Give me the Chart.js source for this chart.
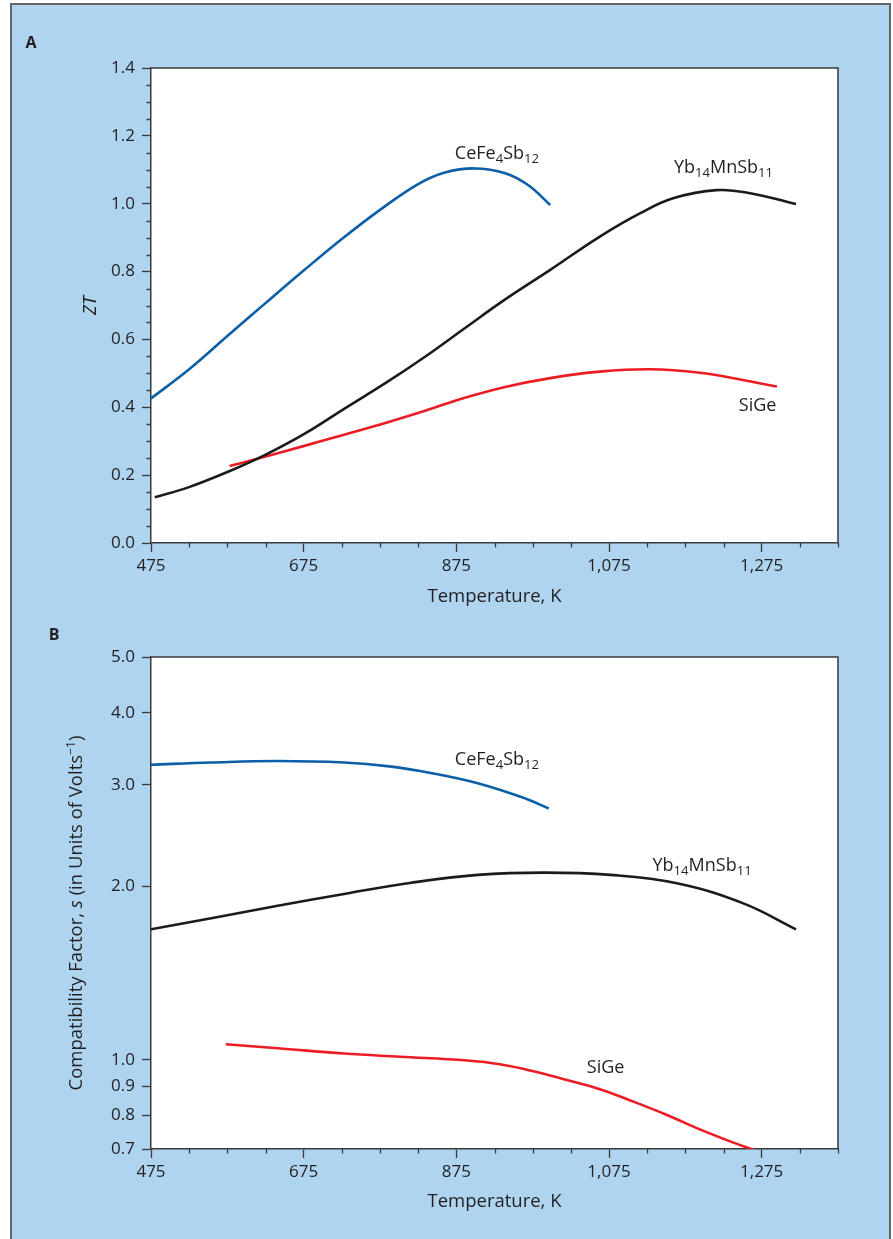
<!DOCTYPE html>
<html><head><meta charset="utf-8">
<script src="https://cdn.jsdelivr.net/npm/chart.js@4.4.0/dist/chart.umd.min.js"></script>
<style>
html,body{margin:0;padding:0;background:#fff;width:893px;height:1239px;overflow:hidden;}
#frame{position:absolute;left:10px;top:3px;width:881px;height:1250px;background:#AED4F0;border:2px solid #666;box-sizing:border-box;}
canvas{position:absolute;left:0;}
#cA{top:0}
#cB{top:620px}
</style></head><body>
<div id="frame"></div>
<canvas id="cA" width="893" height="620" style="width:893px;height:620px"></canvas>
<canvas id="cB" width="893" height="619" style="width:893px;height:619px"></canvas>
<script>
// ---------- data ----------
const tempTicks = [475, 675, 875, 1075, 1275];
const tempMinor = [525, 575, 625, 725, 775, 825, 925, 975, 1025, 1125, 1175, 1225, 1325, 1375];
const ztTicks = [0, 0.2, 0.4, 0.6, 0.8, 1.0, 1.2, 1.4];
const ztMinor = [0.05, 0.1, 0.15, 0.25, 0.3, 0.35, 0.45, 0.5, 0.55, 0.65, 0.7, 0.75, 0.85, 0.9, 0.95, 1.05, 1.1, 1.15, 1.25, 1.3, 1.35];
const sTicks = [0.7, 0.8, 0.9, 1.0, 2.0, 3.0, 4.0, 5.0];

// Panel A: ZT vs temperature
const ceTempA = [475, 525, 575, 625, 675, 725, 775, 825, 860, 899, 939, 969, 998];
const ceZT    = [0.426, 0.512, 0.61, 0.707, 0.803, 0.896, 0.982, 1.058, 1.092, 1.104, 1.09, 1.055, 0.996];
const ybTempA = [480, 524, 576, 624, 677, 729, 782, 834, 886, 939, 998, 1063, 1116, 1159, 1216, 1260, 1320];
const ybZT    = [0.135, 0.164, 0.21, 0.259, 0.323, 0.397, 0.471, 0.549, 0.633, 0.718, 0.805, 0.903, 0.972, 1.016, 1.04, 1.031, 0.999];
const siTempA = [578, 624, 677, 729, 782, 834, 886, 939, 998, 1063, 1129, 1194, 1247, 1295];
const siZT    = [0.227, 0.254, 0.287, 0.32, 0.354, 0.39, 0.428, 0.46, 0.486, 0.505, 0.512, 0.502, 0.482, 0.461];

// Panel B: compatibility factor vs temperature
const ceTempB = [475, 554, 641, 728, 787, 845, 903, 961, 996];
const ceS     = [3.25, 3.28, 3.30, 3.28, 3.23, 3.14, 3.02, 2.855, 2.73];
const ybTempB = [475, 554, 641, 728, 816, 903, 990, 1077, 1164, 1251, 1320];
const ybS     = [1.684, 1.76, 1.851, 1.94, 2.029, 2.093, 2.112, 2.093, 2.024, 1.868, 1.684];
const siTempB = [573, 641, 728, 801, 889, 932, 976, 1020, 1063, 1107, 1151, 1194, 1238, 1266];
const siS     = [1.064, 1.047, 1.025, 1.012, 0.997, 0.982, 0.955, 0.922, 0.889, 0.846, 0.802, 0.757, 0.718, 0.697];

// ---------- text ----------
const xTitle = 'Temperature, K';
const yTitleA = 'ZT';
const yTitleBParts = [{t:'Compatibility Factor, '},{t:'s',it:true},{t:' (in Units of Volts'},{t:'\u22121',sup:true},{t:')'}];
const nameCe = [{t:'CeFe'},{t:'4',sub:true},{t:'Sb'},{t:'12',sub:true}];
const nameYb = [{t:'Yb'},{t:'14',sub:true},{t:'MnSb'},{t:'11',sub:true}];
const nameSi = [{t:'SiGe'}];

// ---------- style ----------
const FONT = "'Open Sans', 'Noto Sans', sans-serif";
const TXT = '#231f20';
const AXIS = '#3a3a3a';
const BLUE = '#0b5ea8';
const BLACK = '#1b1b1b';
const RED = '#ec1c24';
const LABEL_SIZE = 18;
const TITLE_SIZE = 18.5;

function pts(xs, ys){ return xs.map((x,i)=>({x:x, y:ys[i]})); }
function fmtTemp(v){ return String(v).replace(/\B(?=(\d{3})+(?!\d))/g, ','); }

function partSize(p, size){ return p.sub ? size*0.73 : (p.sup ? size*0.66 : size); }
function drawRich(ctx, parts, x, y, size){
  let cx = x;
  parts.forEach(p=>{
    const s = partSize(p, size);
    const dy = p.sub ? size*0.23 : (p.sup ? -size*0.4 : 0);
    ctx.font = (p.it ? 'italic ' : '') + s + 'px ' + FONT;
    ctx.fillText(p.t, cx, y + dy);
    cx += ctx.measureText(p.t).width;
  });
  return cx - x;
}
function richWidth(ctx, parts, size){
  let w = 0;
  parts.forEach(p=>{
    ctx.font = (p.it ? 'italic ' : '') + partSize(p, size) + 'px ' + FONT;
    w += ctx.measureText(p.t).width;
  });
  return w;
}

const decorPlugin = {
  id: 'decor',
  beforeDraw(chart){
    const {ctx, chartArea:a} = chart;
    ctx.save();
    ctx.fillStyle = '#ffffff';
    ctx.fillRect(a.left, a.top, a.right - a.left, a.bottom - a.top);
    ctx.restore();
  },
  afterDraw(chart, args, o){
    const {ctx, chartArea:a} = chart;
    const xs = chart.scales.x, ys = chart.scales.y;
    ctx.save();
    ctx.strokeStyle = AXIS; ctx.lineWidth = 1.5;
    ctx.beginPath();
    ctx.moveTo(a.left, a.top); ctx.lineTo(a.right, a.top); ctx.lineTo(a.right, a.bottom);
    ctx.stroke();
    ctx.lineWidth = 1.3;
    ctx.beginPath();
    (o.xMinor||[]).forEach(v=>{ const px = Math.round(xs.getPixelForValue(v))+0.5; ctx.moveTo(px, a.bottom); ctx.lineTo(px, a.bottom+4.5); });
    (o.yMinor||[]).forEach(v=>{ const py = Math.round(ys.getPixelForValue(v))+0.5; ctx.moveTo(a.left-4.5, py); ctx.lineTo(a.left, py); });
    ctx.stroke();
    ctx.fillStyle = TXT; ctx.textBaseline = 'alphabetic'; ctx.textAlign = 'left';
    (o.labels||[]).forEach(l=>{
      drawRich(ctx, l.parts, xs.getPixelForValue(l.x), ys.getPixelForValue(l.y), LABEL_SIZE);
    });
    if (o.panel){
      ctx.font = 'bold 16px ' + FONT;
      ctx.textAlign = 'center'; ctx.textBaseline = 'middle';
      ctx.fillText(o.panel.t, o.panel.x, o.panel.y);
    }
    if (o.yRich){
      ctx.translate(o.yRich.x, (a.top + a.bottom)/2 + o.yRich.dy);
      ctx.rotate(-Math.PI/2);
      ctx.textAlign = 'left'; ctx.textBaseline = 'alphabetic';
      const w = richWidth(ctx, o.yRich.parts, TITLE_SIZE);
      drawRich(ctx, o.yRich.parts, -w/2, 0, TITLE_SIZE);
    }
    ctx.restore();
  }
};

function xScale(height, titlePad){
  return {
    type:'linear', min:475, max:1375,
    afterBuildTicks: s => { s.ticks = tempTicks.map(v=>({value:v})); },
    afterFit: s => { s.height = height; },
    ticks:{ callback: v => fmtTemp(v), font:{family:FONT, size:17}, color:TXT, padding:4, maxRotation:0, autoSkip:false },
    grid:{ drawOnChartArea:false, tickLength:9, tickColor:AXIS, tickWidth:1.3 },
    border:{ color:AXIS, width:1.5 },
    title:{ display:true, text:xTitle, font:{family:FONT, size:TITLE_SIZE}, color:TXT, padding:{top:0, bottom:titlePad} }
  };
}
const lineDefaults = { pointRadius:0, borderWidth:2.6, tension:0.4, fill:false, borderCapStyle:'butt' };

new Chart(document.getElementById('cA'), {
  type:'line',
  data:{ datasets:[
    Object.assign({label:'CeFe4Sb12', data:pts(ceTempA, ceZT), borderColor:BLUE}, lineDefaults),
    Object.assign({label:'Yb14MnSb11', data:pts(ybTempA, ybZT), borderColor:BLACK}, lineDefaults),
    Object.assign({label:'SiGe', data:pts(siTempA, siZT), borderColor:RED}, lineDefaults)
  ]},
  options:{
    responsive:false, animation:false, devicePixelRatio:1,
    layout:{ padding:{ top:68, right:55, left:0, bottom:0 } },
    plugins:{
      legend:{display:false}, tooltip:{enabled:false},
      decor:{
        xMinor: tempMinor, yMinor: ztMinor,
        labels:[ {parts:nameCe, x:873, y:1.132}, {parts:nameYb, x:1160, y:1.090}, {parts:nameSi, x:1245, y:0.389} ],
        panel:{t:'A', x:31, y:43.5}
      }
    },
    scales:{
      x: xScale(77, 12),
      y:{
        type:'linear', min:0, max:1.4,
        afterBuildTicks: s => { s.ticks = ztTicks.map(v=>({value:v})); },
        afterFit: s => { s.width = 151; },
        ticks:{ callback: v => Number(v).toFixed(1), font:{family:FONT, size:17}, color:TXT, padding:7, autoSkip:false },
        grid:{ drawOnChartArea:false, tickLength:9, tickColor:AXIS, tickWidth:1.3 },
        border:{ color:AXIS, width:1.5 },
        title:{ display:true, text:yTitleA, font:{family:FONT, size:TITLE_SIZE, style:'italic'}, color:TXT, padding:{top:80, bottom:0} }
      }
    }
  },
  plugins:[decorPlugin]
});

new Chart(document.getElementById('cB'), {
  type:'line',
  data:{ datasets:[
    Object.assign({label:'CeFe4Sb12', data:pts(ceTempB, ceS), borderColor:BLUE}, lineDefaults),
    Object.assign({label:'Yb14MnSb11', data:pts(ybTempB, ybS), borderColor:BLACK}, lineDefaults),
    Object.assign({label:'SiGe', data:pts(siTempB, siS), borderColor:RED}, lineDefaults)
  ]},
  options:{
    responsive:false, animation:false, devicePixelRatio:1,
    layout:{ padding:{ top:37, right:55, left:0, bottom:0 } },
    plugins:{
      legend:{display:false}, tooltip:{enabled:false},
      decor:{
        xMinor: tempMinor,
        labels:[ {parts:nameCe, x:873, y:3.249}, {parts:nameYb, x:1132, y:2.126}, {parts:nameSi, x:1046, y:0.950} ],
        panel:{t:'B', x:54, y:15},
        yRich:{ parts:yTitleBParts, x:82, dy:10 }
      }
    },
    scales:{
      x: xScale(90, 26),
      y:{
        type:'logarithmic', min:0.7, max:5,
        afterBuildTicks: s => { s.ticks = sTicks.map(v=>({value:v})); },
        afterFit: s => { s.width = 151; },
        ticks:{ callback: v => Number(v).toFixed(1), font:{family:FONT, size:17}, color:TXT, padding:7, autoSkip:false },
        grid:{ drawOnChartArea:false, tickLength:9, tickColor:AXIS, tickWidth:1.3 },
        border:{ color:AXIS, width:1.5 }
      }
    }
  },
  plugins:[decorPlugin]
});
</script>
</body></html>
